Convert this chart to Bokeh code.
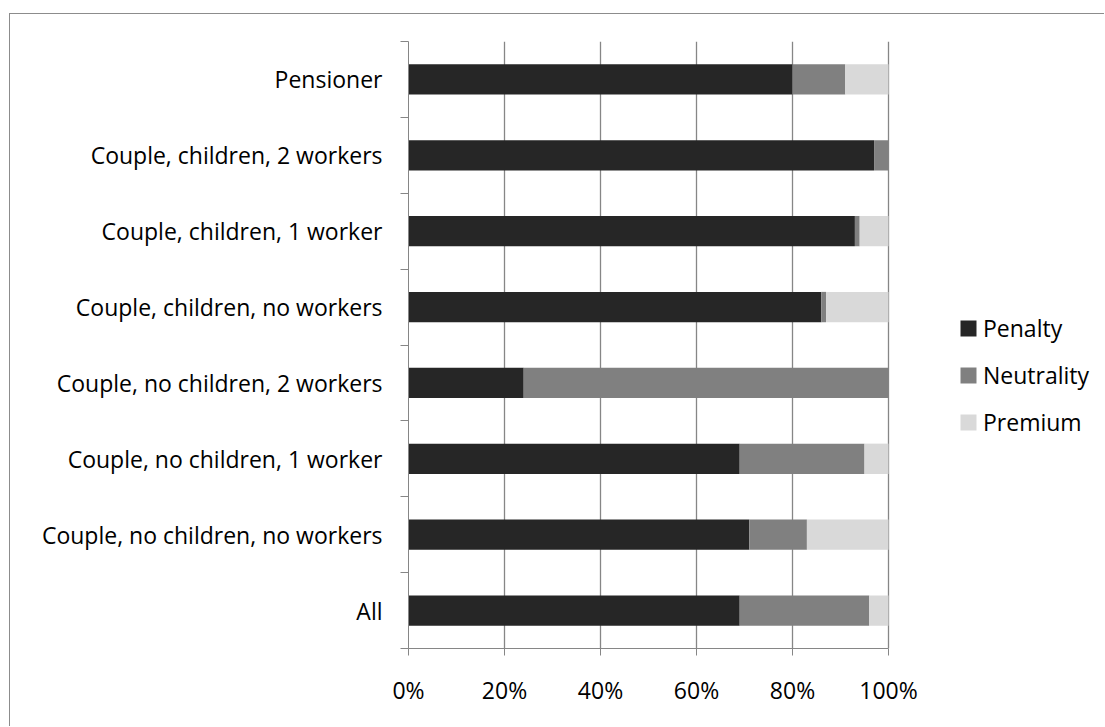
from bokeh.plotting import figure
from bokeh.models import (ColumnDataSource, FixedTicker, Legend, LegendItem,
                          PrintfTickFormatter, Range1d)
from bokeh.embed import file_html
from bokeh.resources import INLINE

# Household types, listed from top to bottom as drawn
categories = [
    "Pensioner",
    "Couple, children, 2 workers",
    "Couple, children, 1 worker",
    "Couple, children, no workers",
    "Couple, no children, 2 workers",
    "Couple, no children, 1 worker",
    "Couple, no children, no workers",
    "All",
]
# Shares (%) of each household type
penalty    = [80, 97, 93, 86, 24, 69, 71, 69]
neutrality = [11,  3,  1,  1, 76, 26, 12, 27]
premium    = [ 9,  0,  6, 13,  0,  5, 17,  4]

series_names = ["Penalty", "Neutrality", "Premium"]
series_colors = ["#262626", "#808080", "#d9d9d9"]
x_ticks = [0, 20, 40, 60, 80, 100]

FONT = "Open Sans"
FONT_SIZE = "23px"
AXIS_GREY = "#868686"

n = len(categories)
ypos = [n - 0.5 - i for i in range(n)]

source = ColumnDataSource(dict(
    y=ypos, Penalty=penalty, Neutrality=neutrality, Premium=premium,
))

# Plot frame runs to the right edge so the legend can sit inside it;
# the axis and grid stop at 100 %.
FRAME_W = 1095 - 398
X_END = 100 * FRAME_W / 480

p = figure(
    width=1095, height=713,
    x_range=Range1d(0, X_END), y_range=Range1d(0, n),
    output_backend="svg", toolbar_location=None,
    min_border_left=398, min_border_right=0,
    min_border_top=27, min_border_bottom=79,
    styles={
        "margin-left": "9px", "margin-top": "13px",
        "border-left": "1.5px solid #8c8c8c",
        "border-top": "1.5px solid #8c8c8c",
    },
)
p.outline_line_color = None
p.background_fill_color = "white"
p.border_fill_color = "white"

renderers = p.hbar_stack(series_names, y="y", height=0.4, color=series_colors,
                         line_color=None, source=source)

# Horizontal axis: percentages with outward ticks
p.xaxis.bounds = (0, 100)
p.xaxis.ticker = FixedTicker(ticks=x_ticks)
p.xaxis.formatter = PrintfTickFormatter(format="%d%%")
p.xaxis.axis_line_color = AXIS_GREY
p.xaxis.major_tick_line_color = AXIS_GREY
p.xaxis.major_tick_in = 0
p.xaxis.major_tick_out = 7
p.xaxis.minor_tick_line_color = None
p.xaxis.major_label_standoff = 18
p.xaxis.major_label_text_font = FONT
p.xaxis.major_label_text_font_size = FONT_SIZE
p.xaxis.major_label_text_color = "black"

# Vertical axis: labels at band centres, tick marks at band edges
p.yaxis.ticker = FixedTicker(ticks=ypos, minor_ticks=list(range(n + 1)))
p.yaxis.major_label_overrides = {y: c for y, c in zip(ypos, categories)}
p.yaxis.axis_line_color = AXIS_GREY
p.yaxis.major_tick_line_color = None
p.yaxis.major_tick_in = 0
p.yaxis.major_tick_out = 0
p.yaxis.minor_tick_line_color = AXIS_GREY
p.yaxis.minor_tick_in = 0
p.yaxis.minor_tick_out = 8
p.yaxis.major_label_standoff = 18
p.yaxis.major_label_text_font = FONT
p.yaxis.major_label_text_font_size = FONT_SIZE
p.yaxis.major_label_text_color = "black"

p.xgrid.ticker = FixedTicker(ticks=x_ticks)
p.xgrid.bounds = (0, 100)
p.xgrid.grid_line_color = AXIS_GREY
p.xgrid.grid_line_width = 1.3
p.ygrid.grid_line_color = None

legend = Legend(
    items=[LegendItem(label=name, renderers=[r]) for name, r in zip(series_names, renderers)],
    location=(550, 210),
    orientation="vertical",
    glyph_width=20, glyph_height=20,
    label_standoff=5, spacing=15,
    padding=0, margin=0,
    border_line_color=None, background_fill_alpha=0,
    label_text_font=FONT, label_text_font_size=FONT_SIZE,
    label_text_color="black",
)
p.add_layout(legend, "center")

open("out.html", "w").write(file_html(p, INLINE))
